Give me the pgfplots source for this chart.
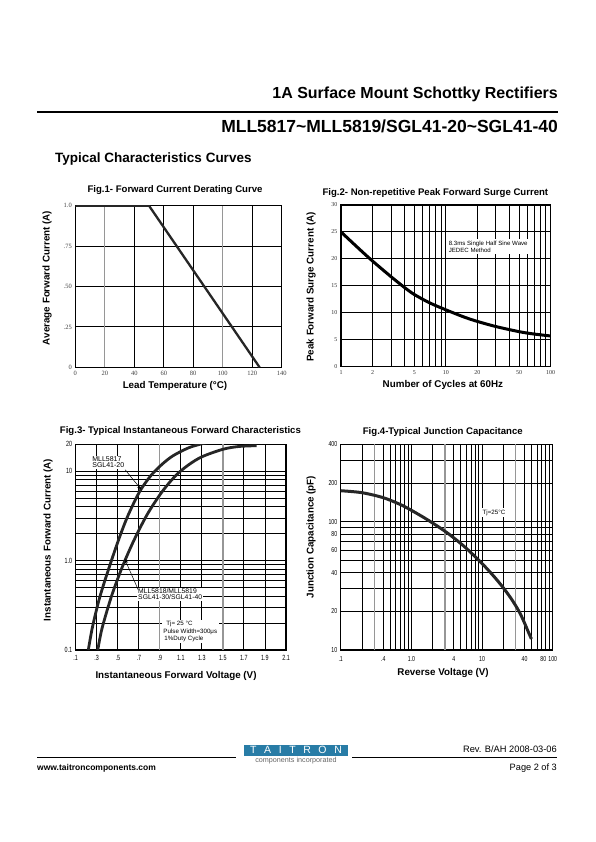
\documentclass[border=0pt]{standalone}
\usepackage{pgfplots}
\pgfplotsset{compat=1.18}
\usepackage{fontspec}
\setmainfont{Liberation Sans}
\newfontfamily\tickserif{Liberation Serif}
\newfontfamily\narrowsans[FakeStretch=0.72]{Liberation Sans}
\usetikzlibrary{arrows.meta}
\definecolor{gridgray}{RGB}{150,150,150}
\definecolor{logoblue}{RGB}{40,124,166}
\pgfplotsset{
  every axis title shift=0pt,
  sheet/.style={scale only axis, axis line style={line width=1.1pt},
    major tick length=0pt, minor tick length=0pt, tick style={draw=none},
    clip=true},
}
\tikzset{
  figtitle/.style={font=\bfseries\fontsize{9.6}{11}\selectfont, anchor=base, inner sep=0pt},
  figlabel/.style={font=\bfseries\fontsize{9.8}{11}\selectfont, anchor=center, inner sep=0pt},
}
\begin{document}
\begin{tikzpicture}
\path[use as bounding box, fill=white] (0,0) rectangle (595pt,-842pt);
% ---------------- header
\node[anchor=base east, inner sep=0pt, font=\bfseries\fontsize{16}{18}\selectfont] at (558pt,-98.5pt) {1A Surface Mount Schottky Rectifiers};
\draw[line width=1.8pt] (37pt,-112pt) -- (558pt,-112pt);
\node[anchor=base east, inner sep=0pt, font=\bfseries\fontsize{17.5}{20}\selectfont] at (558pt,-132.5pt) {MLL5817\textasciitilde MLL5819/SGL41-20\textasciitilde SGL41-40};
\node[anchor=base west, inner sep=0pt, font=\bfseries\fontsize{13.5}{15}\selectfont] at (55pt,-163pt) {Typical Characteristics Curves};

% ---------------- Fig.1
\begin{axis}[sheet, at={(75.3pt,-367.3pt)}, anchor=south west,
  width=206.4pt, height=161.6pt,
  xmin=0, xmax=140, ymin=0, ymax=1,
  xtick={0,20,40,60,80,100,120,140}, xticklabels={0,20,40,60,80,100,120,140},
  ytick={0,0.25,0.5,0.75,1}, yticklabels={0,.25,.50,.75,1.0},
  ticklabel style={font=\tickserif\fontsize{6.5}{7}\selectfont, text=black!75},
  grid=major, major grid style={black, line width=0.9pt},
  extra x ticks={20,100}, extra x tick labels={},
  extra x tick style={grid=major, major grid style={gridgray, line width=1.3pt}},
  title={Fig.1- Forward Current Derating Curve},
  title style={figtitle, at={(axis description cs:0.483,1.0786)}},
  xlabel={Lead Temperature (°C)},
  xlabel style={figlabel, at={(axis description cs:0.483,-0.116)}},
  ylabel={Average Forward Current (A)},
  ylabel style={figlabel, at={(axis description cs:-0.137,0.553)}},
]
\addplot[black!85, line width=2.3pt] coordinates {(0,1) (50,1) (125,0)};
\end{axis}

% ---------------- Fig.2
\begin{axis}[sheet, at={(341pt,-366.7pt)}, anchor=south west,
  width=209.7pt, height=161.7pt,
  xmode=log, xmin=1, xmax=100, ymin=0, ymax=30,
  xtick={1,2,5,10,20,50,100}, xticklabels={1,2,5,10,20,50,100},
  minor xtick={3,4,6,7,8,9,30,40,60,70,80,90},
  ytick={0,5,10,15,20,25,30}, yticklabels={0,5,10,15,20,25,30},
  ticklabel style={font=\tickserif\fontsize{6}{7}\selectfont, text=black!80},
  grid=both, major grid style={black, line width=1pt}, minor grid style={black, line width=0.9pt},
  title={Fig.2- Non-repetitive Peak Forward Surge Current},
  title style={figtitle, at={(axis description cs:0.45,1.0557)}},
  xlabel={Number of Cycles at 60Hz},
  xlabel style={figlabel, at={(axis description cs:0.486,-0.113)}},
  ylabel={Peak Forward Surge Current (A)},
  ylabel style={figlabel, at={(axis description cs:-0.143,0.493)}},
]
\addplot[black, line width=3pt, smooth] coordinates {
 (1,25) (1.5,21.8) (2,19.6) (3,16.7) (4,14.75) (5,13.4) (7,11.85) (10,10.55)
 (15,9.2) (20,8.4) (30,7.45) (50,6.5) (70,6.05) (100,5.7)};
\node[fill=white, align=left, inner sep=1.5pt, font=\fontsize{6.1}{7}\selectfont]
  at (rel axis cs:0.702,0.742) {8.3ms Single Half Sine Wave\\JEDEC Method};
\end{axis}

% ---------------- Fig.3
\begin{axis}[sheet, at={(75.7pt,-650pt)}, anchor=south west,
  width=210.3pt, height=205.7pt,
  ymode=log, xmin=0.1, xmax=2.1, ymin=0.1, ymax=20,
  xtick={0.1,0.3,0.5,0.7,0.9,1.1,1.3,1.5,1.7,1.9,2.1},
  xticklabels={.1,.3,.5,.7,.9,1.1,1.3,1.5,1.7,1.9,2.1},
  ytick={0.1,1,10,20}, yticklabels={0.1,1.0,10,20},
  minor ytick={0.2,0.3,0.4,0.5,0.6,0.7,0.8,0.9,2,3,4,5,6,7,8,9},
  ticklabel style={font=\narrowsans\fontsize{7.5}{8}\selectfont},
  xticklabel style={yshift=-2pt},
  grid=both, major grid style={black, line width=0.9pt}, minor grid style={black, line width=0.9pt},
  extra x ticks={0.9,1.5}, extra x tick labels={},
  extra x tick style={grid=major, major grid style={gridgray, line width=1.3pt}},
  title={Fig.3- Typical Instantaneous Forward Characteristics},
  title style={figtitle, at={(axis description cs:0.498,1.0525)}},
  xlabel={Instantaneous Forward Voltage (V)},
  xlabel style={figlabel, at={(axis description cs:0.477,-0.126)}},
  ylabel={Instantaneous Forward Current (A)},
  ylabel style={figlabel, at={(axis description cs:-0.131,0.535)}},
]
% MLL5817 / SGL41-20
\addplot[black!85, line width=2.8pt, smooth] coordinates {
 (0.22,0.1) (0.26,0.182) (0.33,0.394) (0.43,0.925) (0.52,1.87) (0.6,3.25)
 (0.71,5.97) (0.82,9.08) (0.93,12.2) (1.03,15.0) (1.17,18.2) (1.28,20.0) (1.36,21)};
% MLL5818/MLL5819 / SGL41-30/SGL41-40
\addplot[black!85, line width=2.8pt, smooth] coordinates {
 (0.31,0.1) (0.35,0.174) (0.44,0.398) (0.54,0.832) (0.65,1.65) (0.78,3.28)
 (0.92,5.86) (1.05,8.91) (1.17,11.7) (1.3,14.5) (1.5,17.6) (1.65,18.9) (1.82,19.3)};
\node[fill=white, align=left, inner sep=0.8pt, font=\fontsize{7}{6.5}\selectfont]
  at (axis cs:0.41,12.6) {MLL5817\\SGL41-20};
\draw[-{Stealth[length=5pt,width=3.5pt]}, line width=0.5pt] (axis cs:0.57,10.4) -- (axis cs:0.725,6.2);
\node[fill=white, align=left, anchor=west, inner sep=0.8pt, font=\fontsize{6.8}{6.5}\selectfont]
  at (axis cs:0.685,0.42) {MLL5818/MLL5819\\SGL41-30/SGL41-40};
\draw[-{Stealth[length=5pt,width=3.5pt]}, line width=0.5pt] (axis cs:0.695,0.47) -- (axis cs:0.565,1.05);
\node[fill=white, align=left, inner sep=1.5pt, font=\fontsize{6.2}{7.2}\selectfont]
  at (rel axis cs:0.545,0.09) {\hspace*{3pt}Tj= 25 °C\\Pulse Width=300μs\\\hspace*{1pt}1\%Duty Cycle};
\end{axis}

% ---------------- Fig.4
\begin{axis}[sheet, at={(340.7pt,-650pt)}, anchor=south west,
  width=212pt, height=205.7pt,
  xmode=log, ymode=log, xmin=0.1, xmax=100, ymin=10, ymax=400,
  xtick={0.1,0.4,1,4,10,40,80,100}, xticklabels={.1,.4,1.0,4,10,40,{\kern-5pt80},100},
  minor xtick={0.2,0.3,0.5,0.6,0.7,0.8,0.9,2,3,5,6,7,8,9,20,30,50,60,70,90},
  ytick={10,20,40,60,80,100,200,400}, yticklabels={10,20,40,60,80,100,200,400},
  minor ytick={30,50,70,90,300},
  ticklabel style={font=\narrowsans\fontsize{7.2}{8}\selectfont},
  xticklabel style={yshift=-3pt},
  grid=both, major grid style={black, line width=0.9pt}, minor grid style={black, line width=0.9pt},
  extra x ticks={0.3,3,30}, extra x tick labels={},
  extra x tick style={grid=major, major grid style={gridgray, line width=1.3pt}},
  title={Fig.4-Typical Junction Capacitance},
  title style={figtitle, at={(axis description cs:0.4816,1.0476)}},
  xlabel={Reverse Voltage (V)},
  xlabel style={figlabel, at={(axis description cs:0.483,-0.112)}},
  ylabel={Junction Capacitance (pF)},
  ylabel style={figlabel, at={(axis description cs:-0.14,0.549)}},
]
\addplot[black!85, line width=3pt, smooth] coordinates {
 (0.1,174) (0.2,168) (0.4,153.6) (0.7,135.8) (1,122.5) (1.5,107.6) (2,97.5) (3,84)
 (4,74.6) (6,61.9) (10,47.2) (15,37) (20,30.5) (25,25.8) (30,22.1) (35,19)
 (40,16.2) (45,13.9) (50,12.2)};
\node[fill=white, inner sep=1.5pt, font=\fontsize{6.2}{7}\selectfont]
  at (rel axis cs:0.723,0.667) {Tj=25°C};
\end{axis}

% ---------------- footer
\draw[line width=0.8pt] (37pt,-757.5pt) -- (236pt,-757.5pt);
\draw[line width=1.6pt] (352pt,-757.5pt) -- (557pt,-757.5pt);
\fill[logoblue] (244pt,-744.5pt) rectangle (348pt,-756pt);
\node[text=white, inner sep=0pt, font=\fontsize{10.5}{11}\selectfont] at (296pt,-750.3pt)
  {T\kern7.6pt A\kern7.6pt I\kern7.6pt T\kern7.6pt R\kern7.6pt O\kern7.6pt N};
\node[text=black!60, inner sep=0pt, font=\fontsize{7.2}{8}\selectfont] at (296pt,-761pt) {components incorporated};
\node[anchor=base east, inner sep=0pt, font=\fontsize{9.3}{10}\selectfont] at (557pt,-752pt) {Rev. B/AH 2008-03-06};
\node[anchor=base west, inner sep=0pt, font=\bfseries\fontsize{8.5}{10}\selectfont] at (37pt,-770pt) {www.taitroncomponents.com};
\node[anchor=base east, inner sep=0pt, font=\fontsize{9.2}{10}\selectfont] at (557pt,-770pt) {Page 2 of 3};
\end{tikzpicture}
\end{document}
